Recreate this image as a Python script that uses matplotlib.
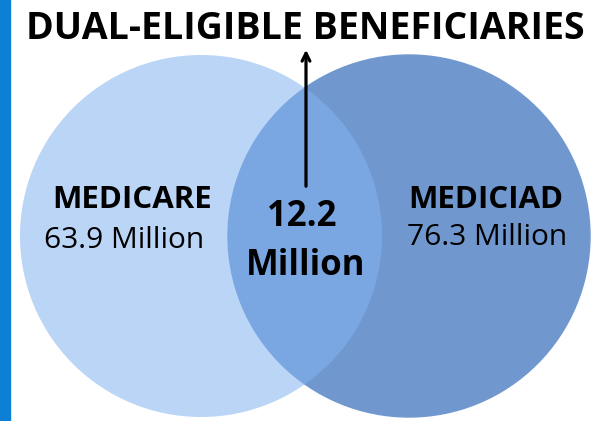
import matplotlib
matplotlib.use("Agg")
import matplotlib.pyplot as plt
from matplotlib.patches import Circle, Rectangle

# Venn data
title = "DUAL-ELIGIBLE BENEFICIARIES"
groups = ["MEDICARE", "MEDICIAD"]
totals = [63.9, 76.3]          # millions
overlap = 12.2                 # millions
colors = ["#83b3f1", "#7098cf"]

plt.rcParams['font.family'] = ['Open Sans', 'DejaVu Sans']

fig = plt.figure(figsize=(5.94, 4.21), dpi=100)
ax = fig.add_axes([0, 0, 1, 1])
ax.set_xlim(0, 594)
ax.set_ylim(421, 0)
ax.axis("off")

# left blue strip
ax.add_patch(Rectangle((0, 0), 10, 421, color="#0b80d4", zorder=5))

# circles (pixel layout)
ax.add_patch(Circle((409, 236), 181, color=colors[1], zorder=1))
ax.add_patch(Circle((201, 236), 181, facecolor=colors[0], alpha=0.55, lw=0, zorder=2))

ax.text(305, 39, title, ha="center", va="baseline", fontsize=27,
        fontweight="bold", color="black", zorder=6)

# arrow up to the title
ax.annotate("", xy=(306, 47), xytext=(306, 189),
            arrowprops=dict(arrowstyle="->", lw=2.3, color="black",
                            mutation_scale=14), zorder=6)

ax.text(132, 208, groups[0], ha="center", va="baseline", fontsize=22.5,
        fontweight="bold", zorder=6)
ax.text(124, 248, f"{totals[0]} Million", ha="center", va="baseline",
        fontsize=21.5, zorder=6)
ax.text(486, 208, groups[1], ha="center", va="baseline", fontsize=22.5,
        fontweight="bold", zorder=6)
ax.text(487, 245, f"{totals[1]} Million", ha="center", va="baseline",
        fontsize=21.5, zorder=6)

ax.text(302, 226, f"{overlap}", ha="center", va="baseline", fontsize=25,
        fontweight="bold", zorder=6)
ax.text(306, 275, "Million", ha="center", va="baseline", fontsize=25,
        fontweight="bold", zorder=6)

fig.savefig("out.png", dpi=100)
